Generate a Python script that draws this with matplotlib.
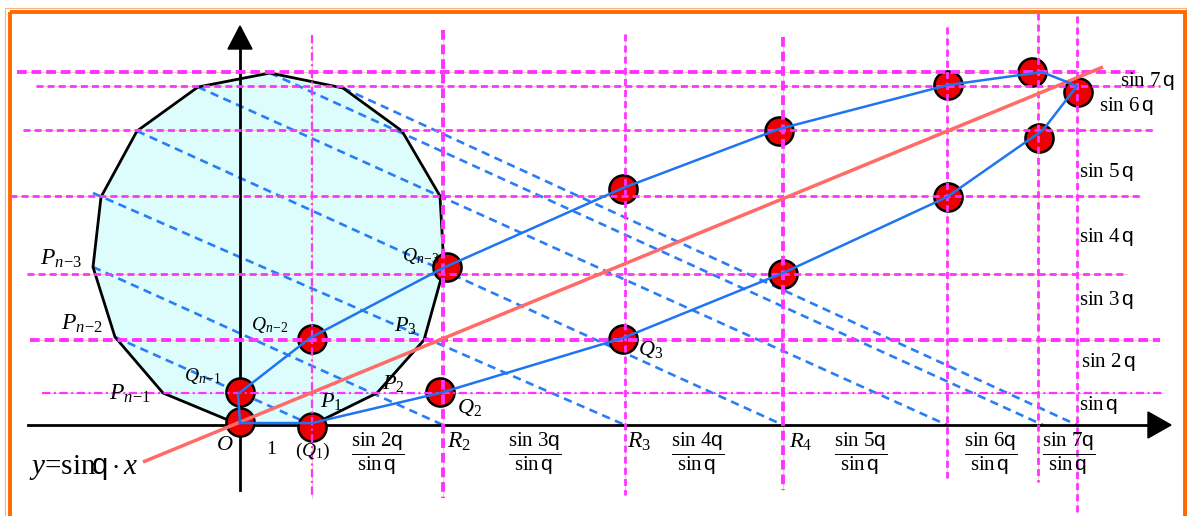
import matplotlib
matplotlib.use('Agg')
import matplotlib.pyplot as plt
from matplotlib.patches import Polygon, Rectangle

plt.rcParams['font.family'] = ['Liberation Serif', 'DejaVu Serif']
plt.rcParams['mathtext.fontset'] = 'custom'
plt.rcParams['mathtext.rm'] = 'Liberation Serif'
plt.rcParams['mathtext.it'] = 'Liberation Serif:italic'
plt.rcParams['mathtext.bf'] = 'Liberation Serif:bold'
plt.rcParams['mathtext.sf'] = 'Liberation Sans'
plt.rcParams['lines.scale_dashes'] = False

W, H = 1187, 516

# ---- data (pixel coordinates, y downwards) ----
# regular polygon P0(=O), P1 ... P14
poly_x = [240, 312, 377, 424, 444, 440, 402, 343, 270, 198, 137, 101, 93, 115, 163]
poly_y = [425, 425, 393, 340, 268, 196, 131, 88, 73, 87, 131, 197, 267, 337, 393]

# horizontal magenta guide lines
hline_y = [72, 86, 130, 196, 274, 340, 393]
hline_x0 = [17, 36, 23, 10, 27, 30, 42]
hline_x1 = [1138, 1160, 1153, 1140, 1127, 1160, 1162]
hline_kind = ['thick', 'norm', 'norm', 'norm', 'norm', 'thick', 'dashdot']

# vertical magenta guide lines (at R_k)
vline_x = [312, 443, 625, 783, 947, 1038, 1077]
vline_y0 = [35, 30, 34, 37, 27, 13, 16]
vline_y1 = [498, 498, 495, 490, 478, 482, 513]
vline_kind = ['dashdot', 'thick', 'norm', 'thick', 'norm', 'norm', 'norm']

# parallel dashed chords P_{n-k} -> R_k
chord_x0 = [115, 93, 93, 137, 198, 270, 343]
chord_y0 = [337, 267, 193, 131, 87, 73, 88]
chord_x1 = [312, 443, 625, 783, 947, 1043, 1077]
chord_y1 = [425, 425, 425, 425, 425, 425, 425]

# blue polygon through the Q points
qpoly_x = [240, 312, 440, 623, 783, 947, 1043, 1077, 1042, 948, 779, 623, 443, 310, 238, 240]
qpoly_y = [423, 423, 393, 338, 273, 197, 130, 86, 72, 85, 129, 188, 268, 338, 394, 423]

# red dots
dot_x = [240, 240, 312, 312, 447, 440, 623, 623, 779, 783, 948, 948, 1032, 1039, 1078]
dot_y = [422, 392, 427, 339, 267, 392, 339, 189, 131, 274, 197, 85, 72, 138, 92]

# line y = sin(q) x
ray_x = [143, 1103]
ray_y = [462, 67]

# labels
k_labels = ['2', '3', '4', '5', '6', '7']
frac_x = [378, 535, 698, 861, 991, 1069]
right_labels = ['sin 7', 'sin 6', 'sin 5', 'sin 4', 'sin 3', 'sin 2', 'sin']
right_x = [1120, 1099, 1079, 1079, 1079, 1081, 1079]
right_y = [81, 106, 172, 237, 300, 362, 405]

# ---- figure ----
fig = plt.figure(figsize=(W / 100, H / 100), dpi=100)
ax = fig.add_axes([0, 0, 1, 1])
ax.set_xlim(0, W)
ax.set_ylim(H, 0)
ax.axis('off')

MAG = '#FF33FF'
PEACH = '#F2C4B0'
BLUE = '#1F75F0'

# polygon fill
ax.add_patch(Polygon(list(zip(poly_x, poly_y)), closed=True, facecolor='#DDFCFC',
                     edgecolor='none', zorder=1))

styles = {
    'thick': dict(lw=2.8, dashes=(7, 3.5)),
    'norm': dict(lw=2.0, dashes=(5, 3)),
    'dashdot': dict(lw=1.6, dashes=(6, 2.5, 1.5, 2.5)),
}

for y, x0, x1, k in zip(hline_y, hline_x0, hline_x1, hline_kind):
    ax.plot([x0, x1], [y, y], color=PEACH, lw=0.6, zorder=2)
for x, y0, y1, k in zip(vline_x, vline_y0, vline_y1, vline_kind):
    ax.plot([x, x], [y0, y1], color=PEACH, lw=0.6, zorder=2)

# dashed chords
for x0, y0, x1, y1 in zip(chord_x0, chord_y0, chord_x1, chord_y1):
    ax.plot([x0, x1], [y0, y1], color='#2A7DF5', lw=1.9, dashes=(6, 4), zorder=4)

# polygon outline (edge O-P1 lies on the axis)
ax.plot(poly_x[1:] + [poly_x[0]], poly_y[1:] + [poly_y[0]], color='black', lw=2.0,
        zorder=5, solid_joinstyle='miter')

# axes with arrow heads
ax.plot([28, 1150], [425, 425], color='black', lw=2.0, zorder=5)
ax.add_patch(Polygon([(1148, 412), (1171, 425), (1148, 438)], closed=True,
                     color='black', zorder=5))
ax.plot([240, 240], [490, 48], color='black', lw=2.0, zorder=5)
ax.add_patch(Polygon([(228, 49), (240, 26), (252, 49)], closed=True,
                     color='black', zorder=5))

# red dots
ax.scatter(dot_x, dot_y, s=410, facecolor='#EE0000', edgecolor='black',
           linewidths=1.8, zorder=6)

# magenta guide lines (above the dots, as in the picture)
for y, x0, x1, k in zip(hline_y, hline_x0, hline_x1, hline_kind):
    ax.plot([x0, x1], [y, y], color=MAG, zorder=7, **styles[k])
for x, y0, y1, k in zip(vline_x, vline_y0, vline_y1, vline_kind):
    ax.plot([x, x], [y0, y1], color=MAG, zorder=7, **styles[k])

# y = sin q x
ax.plot(ray_x, ray_y, color='#FF6B66', lw=2.5, zorder=8, solid_capstyle='butt')

# blue Q polygon
ax.plot(qpoly_x, qpoly_y, color=BLUE, lw=1.8, zorder=9)

# orange frame
ax.add_patch(Rectangle((5, 8), 1181, 560, fill=False, edgecolor='#FFB27A',
                       lw=0.8, zorder=10))
ax.add_patch(Rectangle((9.5, 12), 1175.5, 560, fill=False, edgecolor='#FF6A00',
                       lw=2.8, zorder=10))

# ---- texts ----
def t(s, x, y, size=15, ha='center', va='center', **kw):
    ax.text(x, y, s, fontsize=size, ha=ha, va=va, zorder=11, **kw)

t(r'$P_{n\!-\!3}$', 61, 259, 17)
t(r'$P_{n\!-\!2}$', 82, 324, 17)
t(r'$P_{n\!-\!1}$', 130, 394, 17)
t(r'$Q_{n\!-\!1}$', 203, 376, 14)
t(r'$Q_{n\!-\!2}$', 270, 325, 14)
t(r'$Q_{n\!-\!3}$', 421, 256, 14)
t(r'$P_3$', 405, 326, 16)
t(r'$P_2$', 393, 383, 16)
t(r'$P_1$', 331, 402, 16)
t(r'$O$', 225, 446, 16)
t('1', 271, 450, 14)
t(r'($Q_1$)', 313, 451, 14)
t(r'$Q_2$', 469, 408, 16)
t(r'$Q_3$', 651, 349, 16)
t(r'$R_2$', 459, 442, 17)
t(r'$R_3$', 639, 442, 17)
t(r'$R_4$', 801, 442, 16)

for k, x in zip(k_labels, frac_x):
    t(r'$\dfrac{\mathrm{sin}\ %s\mathsf{q}}{\mathrm{sin}\,\mathsf{q}}$' % k, x, 454, 15)

for s, x, y in zip(right_labels, right_x, right_y):
    t(s + r'$\,\mathsf{q}$', x, y, 15, ha='left')

t(r'$y$=sin$\!\mathsf{q}\cdot x$', 29, 468, 21, ha='left')

fig.savefig('out.png', dpi=100)
